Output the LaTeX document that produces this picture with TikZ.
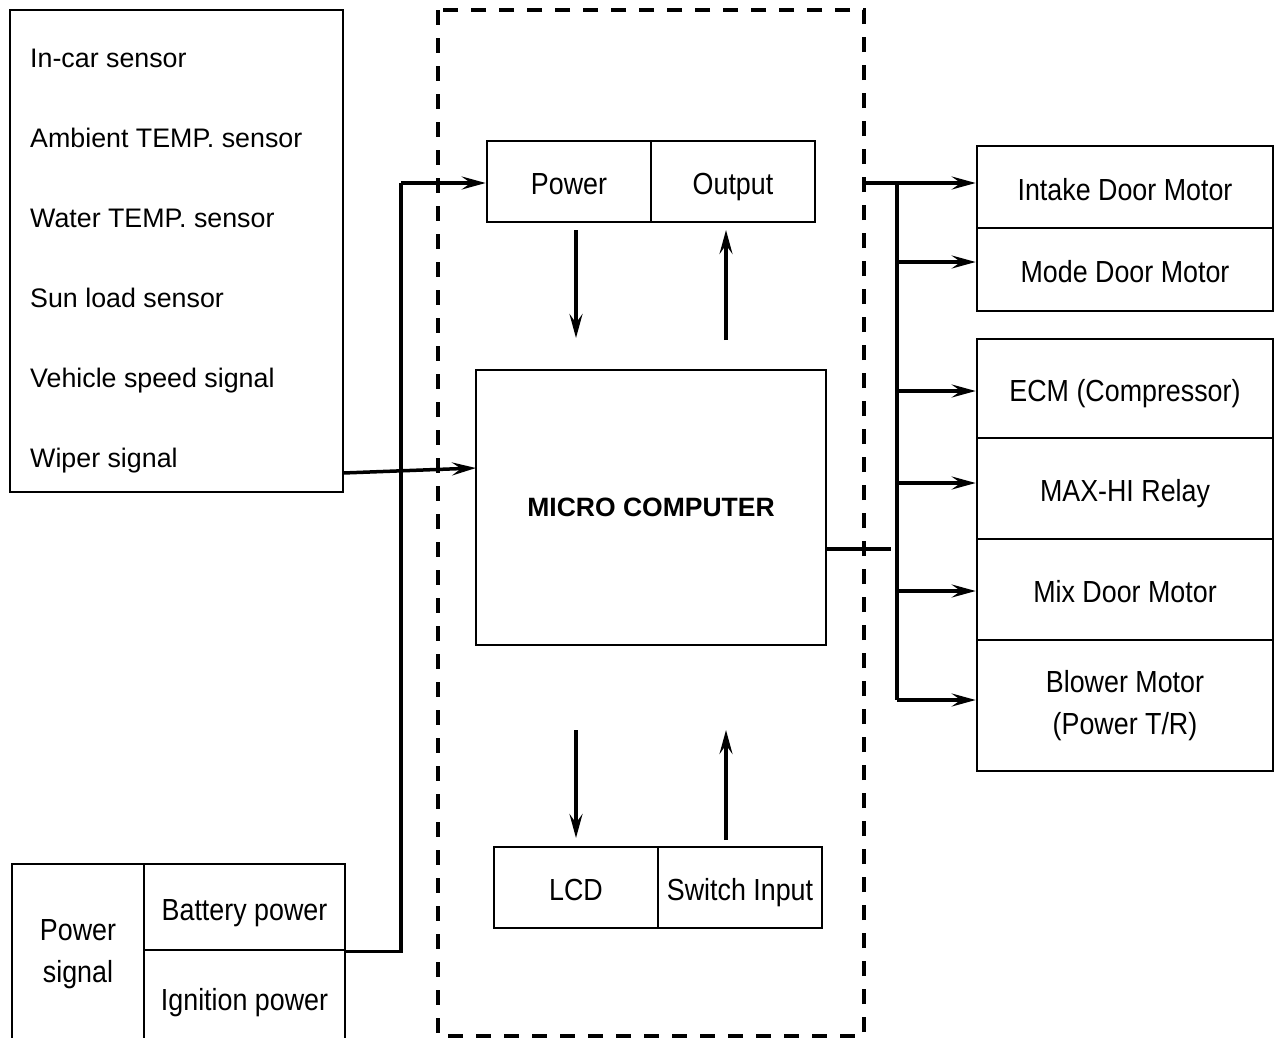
\documentclass[tikz,border=0pt]{standalone}
\usepackage{fontspec}
\setmainfont{Liberation Sans}
\newfontfamily\narrowf[FakeStretch=0.88]{Liberation Sans}
\usetikzlibrary{arrows.meta}
\begin{document}
\begin{tikzpicture}[x=1pt,y=-1pt,
  box/.style={draw,line width=2.6pt,inner sep=0pt,align=center},
  sens/.style={anchor=base west,inner sep=0pt,font=\fontsize{26.8}{30}\selectfont},
  nar/.style={font=\narrowf\fontsize{30.5}{42}\selectfont},
  one/.style={nar,text height=26pt,text depth=0pt},
  arr/.style={line width=3.5pt,-{Stealth[length=24pt,width=13pt,inset=9pt]}},
  wire/.style={line width=3.5pt},
  dashbox/.style={draw,line width=4pt,dash pattern=on 15pt off 13pt}]
\clip (0,0) rectangle (1274,1037);
\useasboundingbox (0,0) rectangle (1274,1037);
% dashed enclosure
\draw[dashbox] (438,10) rectangle (864,1036);
% sensor box
\node[box,minimum width=333pt,minimum height=482pt] (sensors) at (176.5,251) {};
\node[sens] (s1) at (30,67) {In-car sensor};
\node[sens] (s2) at (30,147) {Ambient TEMP. sensor};
\node[sens] (s3) at (30,227) {Water TEMP. sensor};
\node[sens] (s4) at (30,307) {Sun load sensor};
\node[sens] (s5) at (30,387) {Vehicle speed signal};
\node[sens] (s6) at (30,467) {Wiper signal};
% power / output
\node[box,one,minimum width=164pt,minimum height=81pt] (power) at (569,181.5) {Power};
\node[box,one,minimum width=164pt,minimum height=81pt] (output) at (733,181.5) {Output};
% micro computer
\node[box,minimum width=350pt,minimum height=275pt,font=\bfseries\fontsize{26.5}{30}\selectfont] (micro) at (651,507.5) {MICRO COMPUTER};
% LCD / switch
\node[box,one,minimum width=164pt,minimum height=81pt] (lcd) at (576,887.5) {LCD};
\node[box,one,minimum width=164pt,minimum height=81pt] (switch) at (740,887.5) {Switch Input};
% right boxes
\node[box,one,minimum width=296pt,minimum height=82pt] (intake) at (1125,187) {Intake Door Motor};
\node[box,one,minimum width=296pt,minimum height=83pt] (mode) at (1125,269.5) {Mode Door Motor};
\node[box,one,minimum width=296pt,minimum height=99pt] (ecm) at (1125,388.5) {ECM (Compressor)};
\node[box,one,minimum width=296pt,minimum height=101pt] (maxhi) at (1125,488.5) {MAX-HI Relay};
\node[box,one,minimum width=296pt,minimum height=101pt] (mix) at (1125,589.5) {Mix Door Motor};
\node[box,nar,minimum width=296pt,minimum height=131pt] (blower) at (1125,705.5) {Blower Motor\\(Power T/R)};
% power signal box
\node[box,nar,minimum width=132pt,minimum height=180pt] (psig) at (78,954) {Power\\signal};
\node[box,one,minimum width=201pt,minimum height=86pt] (battery) at (244.5,907) {Battery power};
\node[box,one,minimum width=201pt,minimum height=94pt] (ignition) at (244.5,997) {Ignition power};
% battery to power
\coordinate (pj) at (401,183);
\draw[wire] (battery.south east) -- (battery.south east -| pj) -- (pj);
\draw[arr] (pj) -- (pj -| power.west);
% wiper signal to micro
\coordinate (w0) at (343,473);
\coordinate (w1) at (476,468);
\draw[arr] (w0) -- (w1);
% internal arrows
\draw[arr] (576,230) -- (576,338);
\draw[arr] (726,340) -- (726,230);
\draw[arr] (576,730) -- (576,838);
\draw[arr] (726,840) -- (726,730);
% micro to bus
\coordinate (m0) at (826,549);
\coordinate (m1) at (891,549);
\draw[wire] (m0) -- (m1);
% output bus
\coordinate (o0) at (864,183);
\coordinate (bt) at (897,183);
\coordinate (bb) at (897,700);
\draw[line width=4pt] (bt) -- (bb);
\draw[arr] (o0) -- (o0 -| intake.west);
\coordinate (r2) at (897,262);
\coordinate (r3) at (897,391);
\coordinate (r4) at (897,483);
\coordinate (r5) at (897,591);
\draw[arr] (r2) -- (r2 -| mode.west);
\draw[arr] (r3) -- (r3 -| ecm.west);
\draw[arr] (r4) -- (r4 -| maxhi.west);
\draw[arr] (r5) -- (r5 -| mix.west);
\draw[arr] (bb) -- (bb -| blower.west);
\end{tikzpicture}
\end{document}
